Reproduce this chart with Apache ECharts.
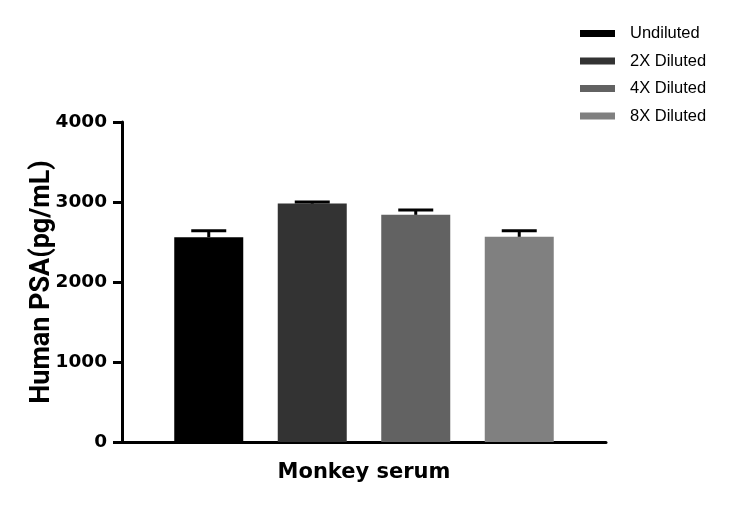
<!DOCTYPE html>
<html>
<head>
<meta charset="utf-8">
<script src="https://cdn.jsdelivr.net/npm/echarts@6/dist/echarts.min.js"></script>
<style>
  html, body { margin: 0; padding: 0; background: #fff; }
  #main { width: 732px; height: 507px; }
</style>
</head>
<body>
<div id="main"></div>
<script>
// data
var groups = ['Monkey serum'];
var seriesNames = ['Undiluted', '2X Diluted', '4X Diluted', '8X Diluted'];
var means = [2560, 2980, 2840, 2565];
var errs = [80, 20, 60, 75];
var colors = ['#000000', '#333333', '#626262', '#808080'];

var barW = 69;
var gapPx = barW * 0.5;

var myChart = echarts.init(document.getElementById('main'));

var series = [];
for (var i = 0; i < seriesNames.length; i++) {
	series.push({
		name : seriesNames[i],
		type : 'bar',
		barWidth : barW,
		barGap : '50%',
		itemStyle : { color : colors[i] },
		data : [ means[i] ]
	});
}

// error bars (upper whisker only, like the original)
var errData = [];
for (var i = 0; i < means.length; i++) {
	errData.push([ 0, means[i], errs[i], i ]);
}
series.push({
	type : 'custom',
	z : 10,
	silent : true,
	renderItem : function(params, api) {
		var idx = api.value(3);
		var n = seriesNames.length;
		var off = (idx - (n - 1) / 2) * (barW + gapPx);
		var p0 = api.coord([ 0, api.value(1) ]);
		var p1 = api.coord([ 0, api.value(1) + api.value(2) ]);
		var x = p0[0] + off;
		var half = 17.5;
		var st = { stroke : '#000', lineWidth : 3 };
		return {
			type : 'group',
			children : [ {
				type : 'line',
				shape : { x1 : x, y1 : p0[1], x2 : x, y2 : p1[1] },
				style : st
			}, {
				type : 'line',
				shape : { x1 : x - half, y1 : p1[1], x2 : x + half, y2 : p1[1] },
				style : st
			} ]
		};
	},
	data : errData
});

var option = {
	animation : false,
	legend : {
		orient : 'vertical',
		left : 575,
		top : 20,
		itemWidth : 35,
		itemHeight : 7,
		itemGap : 10.5,
		icon : 'rect',
		data : seriesNames,
		textStyle : {
			fontFamily : 'Liberation Sans',
			fontSize : 16.5,
			color : '#000',
			padding : [ 0, 0, 0, 10 ]
		}
	},
	grid : {
		left : 122,
		right : 126,
		top : 122,
		bottom : 65
	},
	xAxis : {
		type : 'category',
		data : groups,
		axisLine : { lineStyle : { color : '#000', width : 3 } },
		axisTick : { alignWithLabel : true, length : 8, lineStyle : { width : 3, color : '#000' } },
		axisLabel : {
			margin : 20,
			fontFamily : 'DejaVu Sans',
			fontWeight : 'bold',
			fontSize : 21,
			color : '#000'
		}
	},
	yAxis : {
		type : 'value',
		min : 0,
		max : 4000,
		interval : 1000,
		name : 'Human PSA(pg/mL)',
		nameLocation : 'middle',
		nameGap : 66,
		nameMoveOverlap : false,
		nameTextStyle : {
			fontFamily : 'Roboto',
			fontWeight : 'bold',
			fontSize : 27,
			color : '#000'
		},
		axisLine : { show : true, lineStyle : { color : '#000', width : 3 } },
		axisTick : { show : true, length : 9, lineStyle : { width : 3, color : '#000' } },
		axisLabel : {
			margin : 15,
			formatter : function(v) { return String(v); },
			fontFamily : 'DejaVu Sans',
			fontWeight : 'bold',
			fontSize : 18.5,
			color : '#000'
		},
		splitLine : { show : false }
	},
	series : series
};
myChart.setOption(option);
</script>
</body>
</html>
